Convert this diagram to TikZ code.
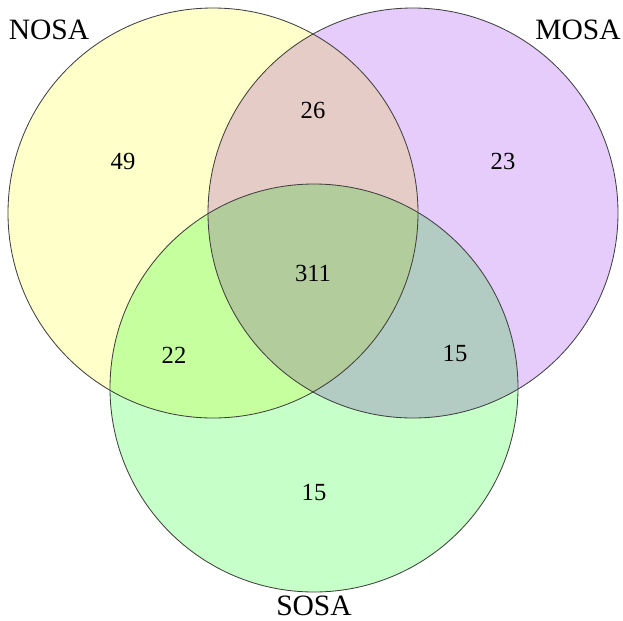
\documentclass[tikz,border=0pt]{standalone}
\usepackage{fontspec}
\setmainfont{Liberation Serif}
\definecolor{nosacol}{RGB}{255,255,202}
\definecolor{mosacol}{RGB}{230,204,250}
\definecolor{sosacol}{RGB}{198,255,200}
\tikzset{
  setcircle/.style={draw=black!75, line width=0.6pt},
  setlabel/.style={font=\fontsize{21}{24}\selectfont},
  count/.style={font=\fontsize{17.5}{20}\selectfont}
}
\begin{document}
\begin{tikzpicture}[x=0.025cm, y=-0.025cm]
      \useasboundingbox (0,0) rectangle (623,620);
      \begin{scope}[blend group=multiply]
      \fill[nosacol] (213,213) circle(205);
      \fill[mosacol] (413,213) circle(205);
      \fill[sosacol] (314,388) circle(204);
      \end{scope}
      \draw[setcircle] (213,213) circle(205);
      \draw[setcircle] (413,213) circle(205);
      \draw[setcircle] (314,388) circle(204);
      \node[setlabel] (nosa) at ( 49, 30) {NOSA};
      \node[setlabel] (mosa) at (578, 30) {MOSA};
      \node[setlabel] (sosa) at (314,606) {SOSA};
      \node[count] (n)   at (123,161) {49};
      \node[count] (m)   at (503,161) {23};
      \node[count] (s)   at (314,492) {15};
      \node[count] (nm)  at (313,110) {26};
      \node[count] (ns)  at (174,355) {22};
      \node[count] (ms)  at (455,353) {15};
      \node[count] (nms) at (313,273) {311};
\end{tikzpicture}
\end{document}
